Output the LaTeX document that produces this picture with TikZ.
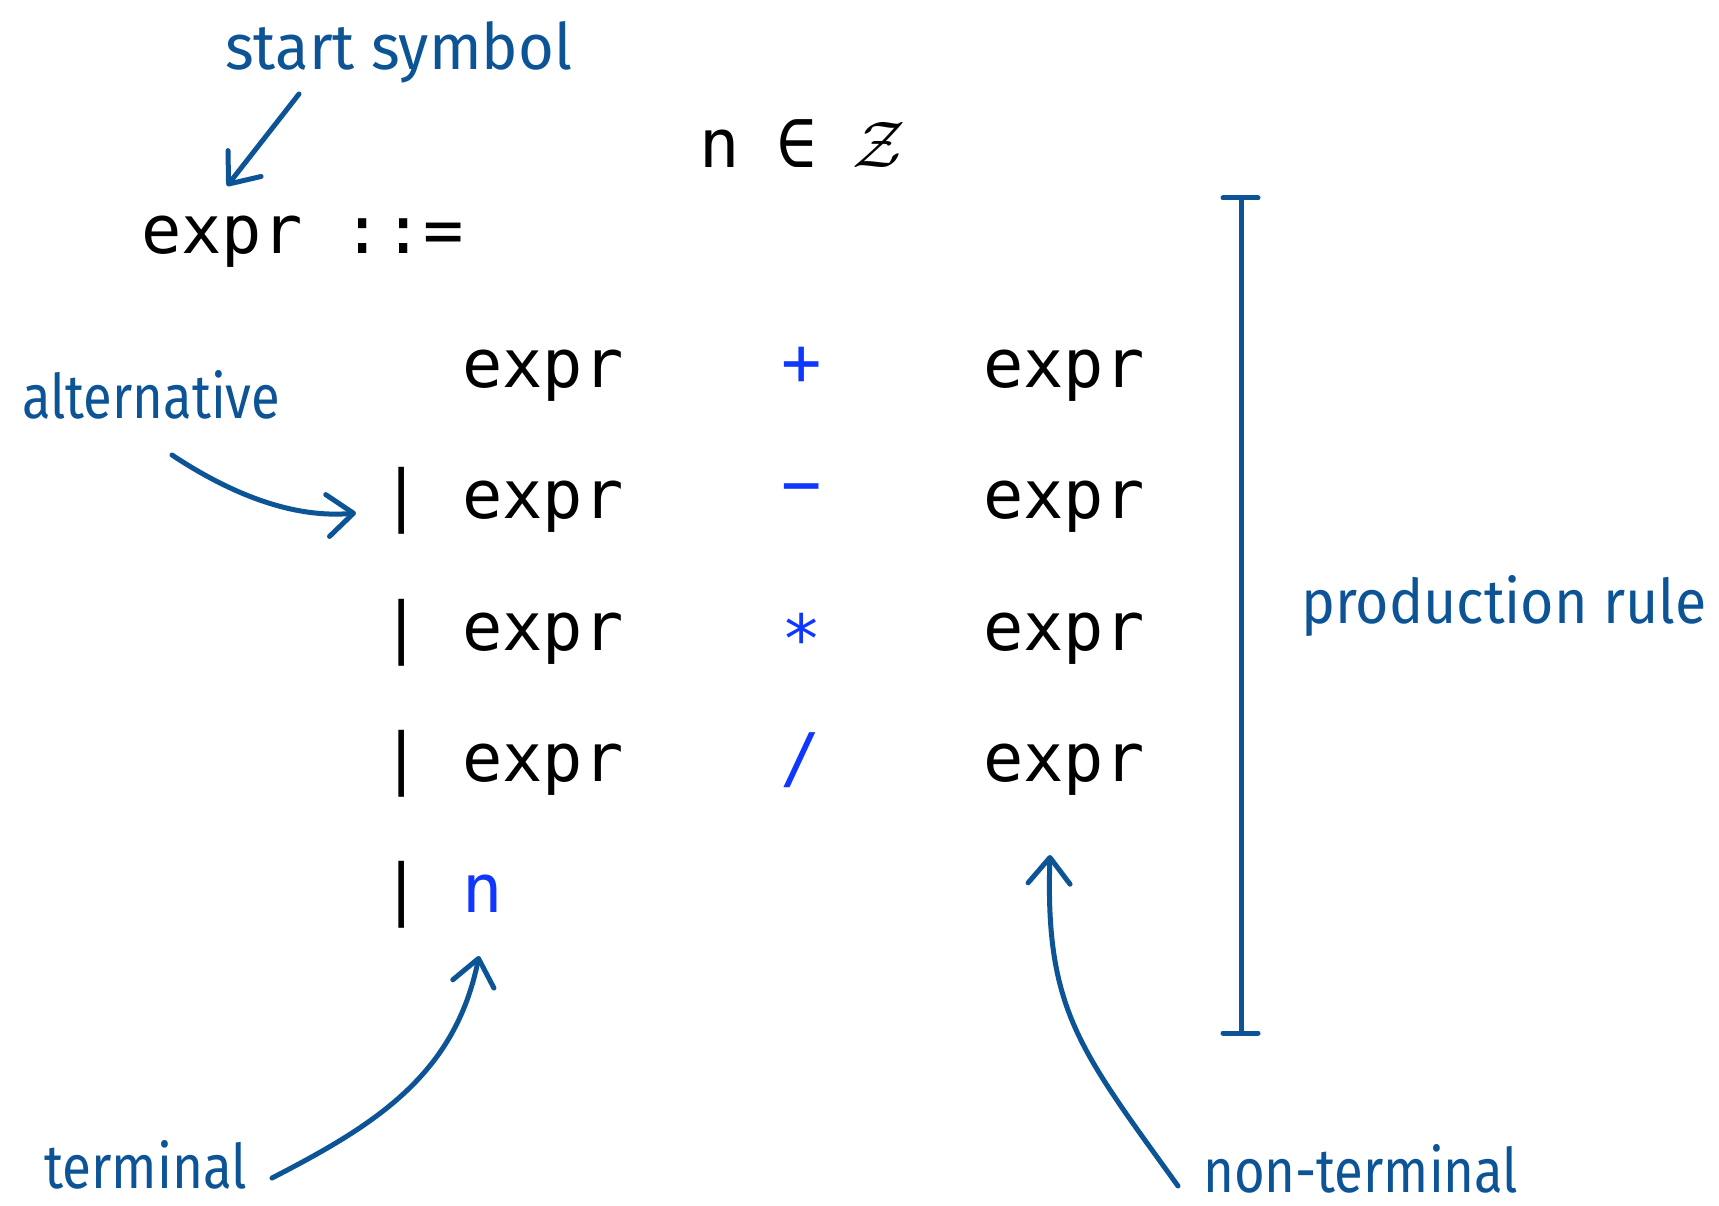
\documentclass[tikz,border=0pt]{standalone}
\usepackage{fontspec}
\usepackage{graphicx}
\usetikzlibrary{arrows.meta}
\newfontfamily\mono{DejaVu Sans Mono}
\newfontfamily\hwfont{Fira Sans}
\definecolor{hand}{RGB}{12,84,150}
\definecolor{term}{RGB}{15,55,255}
\newcommand\hw[2]{\resizebox{#1pt}{48pt}{\hwfont #2}}
\begin{document}
\begin{tikzpicture}[x=1pt,y=-1pt,
  code/.style={inner sep=0pt, text=black, font=\mono\fontsize{67}{80}\selectfont},
  opsym/.style={code, text=term, anchor=center},
  handtext/.style={inner sep=0pt, text=hand, anchor=base west},
  handline/.style={draw=hand, line width=5pt, line cap=round, line join=round},
  harrow/.style={handline, -{Straight Barb[length=26pt,width=42pt,round]}}]
\useasboundingbox (0,0) rectangle (1719,1206);
\fill[white] (0,0) rectangle (1719,1206);

% top line
\node[code, anchor=base west] (nn) at (699,168) {n};
\node[code, anchor=base] (in) at (797,168) {∈};
\node[anchor=base, inner sep=0pt] (zz) at (879,168) {\scalebox{6.6}{$\mathcal{Z}$}};

% grammar
\node[code, anchor=base west] (lhs) at (141,254) {expr ::=};

\node[code, anchor=base west] (e1a) at (462,387) {expr};
\node[opsym] (o1) at (802,366) {+};
\node[code, anchor=base west] (e1b) at (983,387) {expr};

\node[code, anchor=base] (b2) at (402,518) {|};
\node[code, anchor=base west] (e2a) at (462,518) {expr};
\node[opsym] (o2) at (802,496) {−};
\node[code, anchor=base west] (e2b) at (983,518) {expr};

\node[code, anchor=base] (b3) at (402,650) {|};
\node[code, anchor=base west] (e3a) at (462,650) {expr};
\node[opsym] (o3) at (802,631) {∗};
\node[code, anchor=base west] (e3b) at (983,650) {expr};

\node[code, anchor=base] (b4) at (402,781) {|};
\node[code, anchor=base west] (e4a) at (462,781) {expr};
\node[opsym] (o4) at (801,760) {/};
\node[code, anchor=base west] (e4b) at (983,781) {expr};

\node[code, anchor=base] (b5) at (402,912) {|};
\node[code, anchor=base west, text=term] (n5) at (462,912) {n};

% hand-written labels
\node[handtext] (lstart) at (225,70) {\hw{347}{start symbol}};
\node[handtext] (lalt) at (22,418) {\hw{258}{alternative}};
\node[handtext] (lprod) at (1301,623) {\hw{405}{production rule}};
\node[handtext] (lterm) at (44,1188) {\hw{203}{terminal}};
\node[handtext] (lnon) at (1203,1192) {\hw{315}{non-terminal}};

% arrows
\coordinate (sa) at (299,94);
\coordinate (sb) at (227,186);
\draw[harrow] (sa) -- (sb);

\coordinate (aa) at (172,455);
\coordinate (ab) at (356,513);
\draw[harrow] (aa) .. controls (240,500) and (300,518) .. (ab);

\coordinate (ta) at (272,1178);
\coordinate (tb) at (479,956);
\draw[harrow] (ta) .. controls (375,1125) and (455,1075) .. (tb);

\coordinate (na) at (1178,1186);
\coordinate (nb) at (1050,855);
\draw[harrow] (na) .. controls (1080,1050) and (1045,1010) .. (nb);

% production-rule bracket
\coordinate (pt) at (1241,198);
\coordinate (pb) at (1241,1033);
\draw[handline] (pt) -- (pb);
\draw[handline] ([xshift=-18pt]pt) -- ([xshift=17pt]pt);
\draw[handline] ([xshift=-18pt]pb) -- ([xshift=17pt]pb);
\end{tikzpicture}
\end{document}
